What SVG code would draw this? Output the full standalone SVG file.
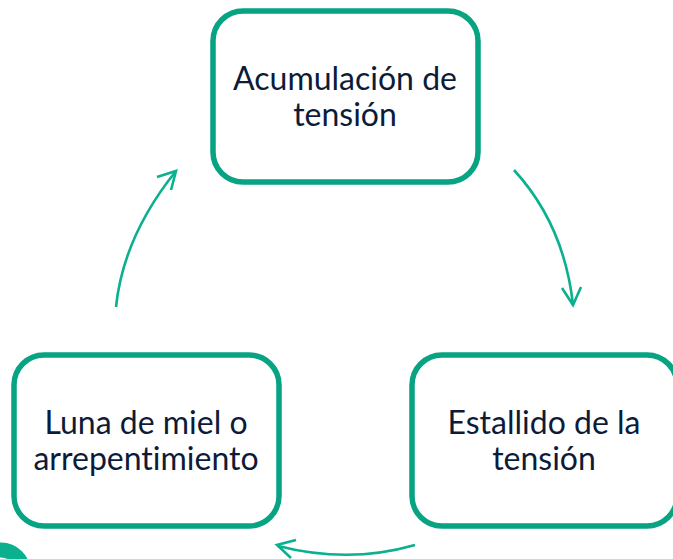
<svg xmlns="http://www.w3.org/2000/svg" width="673" height="559" viewBox="0 0 673 559">
<style>
.box{fill:#fff;stroke:#07a382;stroke-width:5.5}
.lbl{font-family:"Lato","Liberation Sans",sans-serif;font-size:32px;fill:#0c1c38;text-anchor:middle;font-variant-ligatures:none}
.arc{fill:none;stroke:#0bb08f;stroke-width:2.6}
</style>
<rect width="673" height="559" fill="#fff"/>
<g id="connectors">
<path class="arc" d="M514 170C546 205 567 250 573 305"/>
<path class="arc" d="M562 288L573 305L581 287"/>
<path class="arc" d="M415 545C370 558 325 558 278 546"/>
<path class="arc" d="M296 540L277 545L291 558"/>
<path class="arc" d="M116 307C121 258 143 212 176 171"/>
<path class="arc" d="M157 177L176 171L171 190"/>
</g>
<g id="node-acumulacion">
<rect class="box" x="213" y="11" width="265" height="171" rx="30"/>
<text class="lbl" x="345" y="90">Acumulación de</text>
<text class="lbl" x="345" y="126">tensión</text>
</g>
<g id="node-estallido">
<rect class="box" x="412" y="355" width="265" height="171" rx="30"/>
<text class="lbl" x="544" y="434">Estallido de la</text>
<text class="lbl" x="544" y="470">tensión</text>
</g>
<g id="node-luna">
<rect class="box" x="14" y="355" width="265" height="171" rx="30"/>
<text class="lbl" x="146" y="434">Luna de miel o</text>
<text class="lbl" x="146" y="470">arrepentimiento</text>
</g>
<g id="corner-mark">
<circle cx="1" cy="572" r="22" fill="none" stroke="#0bb08f" stroke-width="15"/>
</g>
</svg>
